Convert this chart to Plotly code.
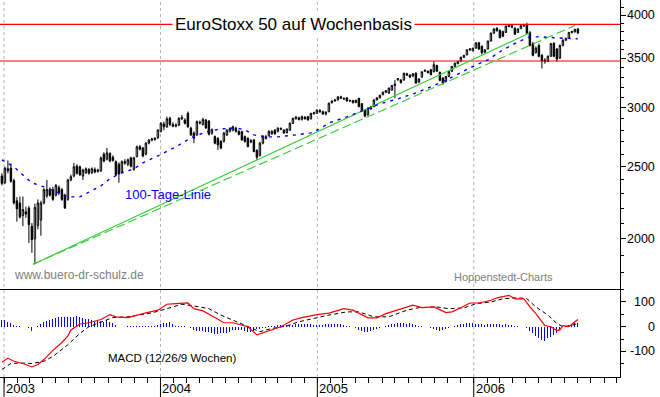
import math
import pandas as pd
import plotly.graph_objects as go

# ---------------- data ----------------
START = "2002-12-27"   # first weekly bar (Friday)

opens = [2430,2380,2485,2490,2395,2250,2235,2150,2175,2200,2080,2000,2085,2120,2235,2285,2330,2330,2290,2345,
         2330,2290,2260,2400,2430,2505,2500,2430,2455,2480,2455,2480,2465,2470,2600,2560,2605,2575,2540,2520,
         2460,2540,2520,2570,2480,2580,2660,2650,2600,2690,2715,2720,2735,2790,2855,2830,2905,2850,2835,2845,
         2900,2890,2950,2818,2775,2760,2870,2850,2890,2880,2775,2745,2730,2705,2705,2760,2790,2800,2818,2790,
         2788,2745,2730,2710,2717,2630,2590,2690,2745,2755,2770,2800,2790,2815,2800,2780,2800,2860,2900,2910,
         2895,2915,2920,2900,2945,2950,2975,2965,2945,2965,3050,3065,3075,3105,3090,3095,3065,3070,3050,3090,
         3040,2980,2936,2990,3013,3075,3095,3125,3150,3140,3170,3215,3272,3270,3270,3335,3320,3310,3340,3250,
         3300,3360,3360,3375,3355,3420,3350,3290,3255,3306,3360,3411,3440,3465,3510,3535,3590,3580,3610,3670,
         3630,3565,3600,3690,3780,3840,3815,3800,3790,3860,3870,3840,3790,3835,3865,3880,3790,3660,3560,3640,
         3530,3480,3465,3520,3665,3600,3500,3640,3700,3720,3790,3795,3830]
highs = [2450,2500,2550,2525,2410,2275,2280,2280,2210,2215,2100,2230,2260,2250,2340,2400,2345,2350,2370,2360,
         2340,2300,2410,2440,2530,2520,2510,2485,2495,2490,2495,2495,2485,2580,2615,2650,2615,2590,2550,2535,
         2550,2560,2565,2580,2580,2670,2675,2660,2700,2725,2735,2740,2810,2870,2875,2920,2920,2870,2860,2915,
         2935,2905,2967,2830,2790,2885,2885,2910,2900,2890,2815,2755,2740,2715,2785,2810,2825,2840,2830,2800,
         2795,2755,2740,2725,2725,2640,2700,2755,2760,2800,2800,2810,2825,2825,2810,2815,2870,2910,2925,2920,
         2930,2925,2925,2955,2965,2985,2990,2975,2970,3050,3070,3085,3110,3115,3100,3100,3080,3075,3080,3095,
         3045,2990,3005,3020,3080,3100,3125,3155,3170,3195,3220,3272,3290,3280,3345,3345,3330,3340,3350,3290,
         3360,3380,3370,3385,3465,3430,3355,3300,3310,3360,3415,3450,3470,3515,3535,3595,3610,3615,3675,3680,
         3640,3600,3695,3790,3840,3850,3825,3810,3870,3885,3880,3850,3840,3875,3885,3905,3805,3680,3630,3660,
         3545,3500,3530,3670,3675,3610,3650,3710,3730,3795,3810,3835,3840]
lows = [2360,2370,2450,2380,2225,2110,2130,2080,2135,1975,1915,1849,2060,2020,2225,2270,2280,2250,2280,2290,
        2250,2195,2250,2390,2420,2440,2430,2400,2445,2440,2445,2450,2455,2460,2535,2550,2535,2540,2430,2380,
        2455,2515,2505,2495,2470,2575,2630,2575,2590,2680,2705,2710,2725,2780,2800,2820,2835,2825,2825,2835,
        2890,2850,2820,2750,2690,2750,2850,2840,2810,2755,2760,2680,2634,2640,2695,2750,2780,2790,2780,2755,
        2710,2695,2655,2690,2615,2554,2580,2680,2720,2745,2760,2760,2780,2800,2770,2770,2795,2855,2895,2885,
        2885,2895,2885,2895,2940,2945,2955,2935,2930,2960,3040,3060,3070,3085,3075,3060,3055,3040,3045,3005,
        2970,2915,2930,2985,3005,3070,3090,3120,3140,3135,3165,3091,3265,3235,3265,3315,3290,3305,3235,3240,
        3295,3355,3340,3320,3350,3355,3260,3222,3250,3300,3355,3405,3435,3460,3500,3530,3580,3575,3605,3590,
        3540,3555,3595,3685,3775,3800,3720,3735,3785,3850,3840,3760,3785,3830,3855,3770,3630,3520,3550,3510,
        3390,3440,3455,3515,3510,3460,3490,3630,3690,3715,3775,3790,3770]
closes = [2375,2490,2470,2390,2235,2195,2140,2190,2160,2090,1995,2205,2235,2235,2330,2330,2290,2260,2360,2305,
          2260,2200,2400,2425,2500,2450,2440,2475,2485,2450,2485,2460,2475,2570,2545,2610,2545,2550,2440,2445,
          2540,2530,2555,2505,2570,2660,2640,2585,2690,2715,2725,2730,2800,2860,2830,2900,2850,2835,2845,2905,
          2910,2860,2830,2760,2730,2876,2865,2895,2820,2765,2805,2690,2676,2650,2775,2800,2815,2830,2790,2765,
          2717,2703,2662,2700,2621,2575,2690,2745,2730,2790,2790,2770,2818,2810,2775,2810,2860,2905,2915,2895,
          2920,2900,2890,2950,2955,2980,2965,2945,2960,3044,3065,3075,3105,3090,3085,3065,3070,3050,3070,3013,
          2975,2925,2997,3010,3075,3095,3120,3150,3165,3190,3215,3230,3285,3245,3340,3320,3300,3335,3240,3280,
          3355,3370,3345,3325,3430,3360,3265,3240,3306,3357,3411,3446,3464,3510,3530,3591,3600,3610,3670,3600,
          3560,3590,3690,3780,3830,3810,3730,3745,3865,3875,3850,3770,3830,3870,3875,3780,3640,3530,3610,3520,
          3470,3465,3520,3660,3520,3490,3640,3700,3720,3790,3800,3825,3785]

# 100-Tage-Linie (week index, value)
ma_weeks = [0,4,7,10,15,19,22,26,30,33,36,39,44,47,52,58,63,68,73,78,81,84,88,92,98,103,106,109,115,121,
            126,132,138,143,149,156,162,167,172,176,180,185,189,192]
ma_vals = [2554,2499,2438,2379,2342,2306,2278,2278,2321,2357,2408,2446,2484,2531,2586,2659,2734,2785,2811,2820,
           2803,2760,2743,2743,2760,2777,2811,2864,2918,2982,3038,3085,3143,3202,3283,3396,3482,3591,3680,3738,
           3738,3726,3715,3715]

# MACD line and signal line (week index, value)
macd_weeks = [0,2,4,7,10,12,14,17,20,22,23,26,29,33,36,38,42,45,48,52,55,58,62,64,67,71,74,77,82,85,
              88,93,97,100,105,109,114,117,122,125,128,133,137,140,144,148,150,153,156,159,163,165,169,171,174,
              176,178,181,183,185,186,187,189,191,192]
macd_vals = [-144,-127,-140,-149,-163,-153,-133,-96,-64,-37,-13,11,16,29,49,40,37,47,56,67,91,93,96,73,64,37,16,16,0,-33,
             -20,0,27,37,49,55,73,67,36,36,53,73,87,77,80,57,60,77,96,96,107,117,127,113,113,
             80,53,4,0,-16,-13,4,0,20,29]
sig_weeks = [0,3,6,10,14,17,22,26,29,33,37,42,46,50,55,60,66,69,73,77,82,86,90,95,99,105,109,115,119,124,
             129,135,139,145,149,154,158,163,167,172,175,178,182,185,187,189,192]
sig_vals = [-173,-149,-147,-149,-140,-120,-73,-27,0,20,37,40,47,56,73,91,80,73,47,27,3,-20,-7,3,20,37,47,60,60,40,
            40,67,77,80,73,76,93,100,113,117,113,80,47,13,0,3,13]
hist_vals = [29,27,20,13,5,2,1,0,-2,-5,-16,-3,2,10,18,24,29,33,37,40,38,39,39,38,40,43,40,37,33,30,
             27,22,22,23,20,26,20,13,7,0,-1,0,1,2,3,3,3,4,3,4,3,4,8,12,16,16,20,11,4,3,
             3,2,0,-4,-14,-16,-16,-18,-20,-20,-25,-29,-29,-27,-24,-24,-20,-14,-12,-12,-15,-18,-20,-20,-16,-11,-9,-6,-4,2,
             3,4,5,6,6,6,7,8,10,11,12,12,11,10,8,7,6,7,9,11,11,10,11,9,6,3,1,0,-4,-12,-18,-20,-20,-17,-13,-8,-4,
             0,3,7,9,11,13,16,14,12,13,10,8,3,1,-1,-3,-6,-9,-13,-16,-12,-8,-4,-1,2,7,10,12,14,16,14,12,10,9,8,9,11,12,11,9,
             8,9,8,5,2,1,0,-1,-5,-16,-27,-38,-47,-54,-56,-47,-40,-33,-27,-13,-3,4,7,11,16,13]

# trend lines and horizontal resistance/support
trend_a_dates = ["2003-03-10", "2006-05-12"]
trend_a_vals = [1849, 3785]
trend_b_dates = ["2003-03-10", "2006-08-25"]
trend_b_vals = [1849, 3872]
level_vals = [3886, 3469]

price_ticks = [2000, 2500, 3000, 3500, 4000]
price_minor = [1800, 1900, 2100, 2200, 2300, 2400, 2600, 2700, 2800, 2900, 3100, 3200, 3300, 3400, 3600, 3700, 3800, 3900, 4100]
macd_ticks = [-100, 0, 100]
macd_minor = [-150, -50, 50, 150]
year_labels = ["2003", "2004", "2005", "2006"]

# ---------------- layout geometry ----------------
W, H = 660, 397
PW, PH = 620, 377
SPLIT = (PH - 289) / PH


def paper_y(px):
    return (PH - px) / PH


weeks = pd.date_range(START, periods=len(closes), freq="7D")
x_start = pd.Timestamp(START) - pd.Timedelta(days=4.43)
x_end = x_start + pd.Timedelta(days=PW * 7 / 3)
xr = [x_start, x_end]

FONT = "Liberation Sans, Arial, sans-serif"
GREEN = "#33cc33"

fig = go.Figure()

# horizontal levels (red)
for v in level_vals:
    fig.add_trace(go.Scatter(x=xr, y=[v, v], mode="lines", line=dict(color="#ff0000", width=1.1),
                             xaxis="x", yaxis="y", hoverinfo="skip"))

# trend lines
fig.add_trace(go.Scatter(x=pd.to_datetime(trend_a_dates), y=trend_a_vals, mode="lines",
                         line=dict(color=GREEN, width=1.1), xaxis="x", yaxis="y", hoverinfo="skip"))
fig.add_trace(go.Scatter(x=pd.to_datetime(trend_b_dates), y=trend_b_vals, mode="lines",
                         line=dict(color=GREEN, width=1.1, dash="9px,4px"), xaxis="x", yaxis="y", hoverinfo="skip"))

# 100-day line
fig.add_trace(go.Scatter(x=weeks[ma_weeks], y=ma_vals, mode="lines",
                         line=dict(color="#0000ff", width=1.4, dash="3px,5px"), xaxis="x", yaxis="y",
                         hoverinfo="skip"))

# weekly candles
fig.add_trace(go.Candlestick(x=weeks, open=opens, high=highs, low=lows, close=closes,
                             increasing=dict(line=dict(color="black", width=1), fillcolor="white"),
                             decreasing=dict(line=dict(color="black", width=1), fillcolor="black"),
                             whiskerwidth=0, xaxis="x", yaxis="y", hoverinfo="skip"))

# MACD panel
fig.add_trace(go.Bar(x=weeks, y=hist_vals, marker=dict(color="#0000ff", line=dict(width=0)),
                     width=86400000 * 2.4, xaxis="x2", yaxis="y2", hoverinfo="skip"))
fig.add_trace(go.Scatter(x=weeks[sig_weeks], y=sig_vals, mode="lines",
                         line=dict(color="black", width=1, dash="4px,3px"), xaxis="x2", yaxis="y2",
                         hoverinfo="skip"))
fig.add_trace(go.Scatter(x=weeks[macd_weeks], y=macd_vals, mode="lines",
                         line=dict(color="#ff0000", width=1.2), xaxis="x2", yaxis="y2", hoverinfo="skip"))

shapes = []
for yl in year_labels:
    d = f"{yl}-01-01"
    shapes.append(dict(type="line", xref="x", yref="paper", x0=d, x1=d, y0=0, y1=1,
                       line=dict(color="#b4b4b4", width=1, dash="3px,3px"), layer="below"))
    shapes.append(dict(type="line", xref="x", yref="paper", x0=d, x1=d, y0=0, y1=paper_y(397),
                       line=dict(color="black", width=1)))

annotations = []
annotations.append(dict(text="EuroStoxx 50 auf Wochenbasis", xref="paper", yref="paper",
                        x=293 / PW, y=paper_y(24), xanchor="center", yanchor="middle", showarrow=False,
                        font=dict(size=17, color="black", family=FONT), bgcolor="white", borderpad=2))
annotations.append(dict(text="100-Tage-Linie", xref="paper", yref="paper", x=123 / PW, y=paper_y(194),
                        xanchor="left", yanchor="middle", showarrow=False,
                        font=dict(size=13, color="#0000ff", family=FONT)))
annotations.append(dict(text="www.buero-dr-schulz.de", xref="paper", yref="paper", x=12 / PW, y=paper_y(275),
                        xanchor="left", yanchor="middle", showarrow=False,
                        font=dict(size=12, color="#808080", family=FONT)))
annotations.append(dict(text="Hoppenstedt-Charts", xref="paper", yref="paper", x=452 / PW, y=paper_y(277),
                        xanchor="left", yanchor="middle", showarrow=False,
                        font=dict(size=11, color="#808080", family=FONT)))
annotations.append(dict(text="MACD (12/26/9 Wochen)", xref="paper", yref="paper", x=106 / PW, y=paper_y(358),
                        xanchor="left", yanchor="middle", showarrow=False,
                        font=dict(size=11.5, color="black", family=FONT)))
for v in price_ticks:
    annotations.append(dict(text=str(v), xref="paper", yref="y", x=657 / PW, y=math.log10(v),
                            xanchor="right", yanchor="middle", showarrow=False,
                            font=dict(size=12.5, color="black", family=FONT)))
for v in macd_ticks:
    annotations.append(dict(text=str(v), xref="paper", yref="y2", x=657 / PW, y=v,
                            xanchor="right", yanchor="middle", showarrow=False,
                            font=dict(size=12.5, color="black", family=FONT)))
for yl in year_labels:
    annotations.append(dict(text=yl, xref="x", yref="paper", x=f"{yl}-01-01", y=paper_y(389),
                            xanchor="left", yanchor="middle", xshift=0, showarrow=False,
                            font=dict(size=13, color="black", family=FONT)))

top = math.log10(4000) + 15 / 743.7
bottom = top - 289 / 743.7

fig.update_layout(
    width=W, height=H,
    margin=dict(l=0, r=W - PW, t=0, b=H - PH),
    paper_bgcolor="white", plot_bgcolor="white",
    showlegend=False, hovermode=False, bargap=0,
    font=dict(family=FONT, size=12, color="black"),
    xaxis=dict(type="date", domain=[0, 1], anchor="y", range=xr, showticklabels=False, showgrid=False,
               zeroline=False, showline=True, linecolor="black", linewidth=1, ticks="",
               rangeslider=dict(visible=False), fixedrange=True),
    yaxis=dict(type="log", domain=[SPLIT, 1], anchor="x", side="right", range=[bottom, top],
               showgrid=False, zeroline=False, showline=True, linecolor="black", linewidth=1,
               tickmode="array", tickvals=price_ticks, showticklabels=False, ticks="outside", ticklen=5,
               tickcolor="black",
               minor=dict(tickmode="array", tickvals=price_minor, ticks="outside", ticklen=3, tickcolor="black"),
               fixedrange=True),
    xaxis2=dict(type="date", domain=[0, 1], anchor="y2", range=xr, showticklabels=False, showgrid=False,
                zeroline=False, showline=True, linecolor="black", linewidth=1, ticks="outside", ticklen=5,
                tickcolor="black", tickmode="linear", tick0="2003-01-01", dtick="M1",
                rangeslider=dict(visible=False), fixedrange=True),
    yaxis2=dict(domain=[0, SPLIT], anchor="x2", side="right", range=[-203.6, 152.6], showgrid=False,
                zeroline=False, showline=True, linecolor="black", linewidth=1, tickmode="array",
                tickvals=macd_ticks, showticklabels=False, ticks="outside", ticklen=5, tickcolor="black",
                minor=dict(tickmode="array", tickvals=macd_minor, ticks="outside", ticklen=3, tickcolor="black"),
                fixedrange=True),
    shapes=shapes,
    annotations=annotations,
)

fig.write_html("out.html", config={"displayModeBar": False, "staticPlot": True},
               post_script="document.body.style.margin='0';document.body.style.padding='0';"
                           "document.documentElement.style.overflow='hidden';")
